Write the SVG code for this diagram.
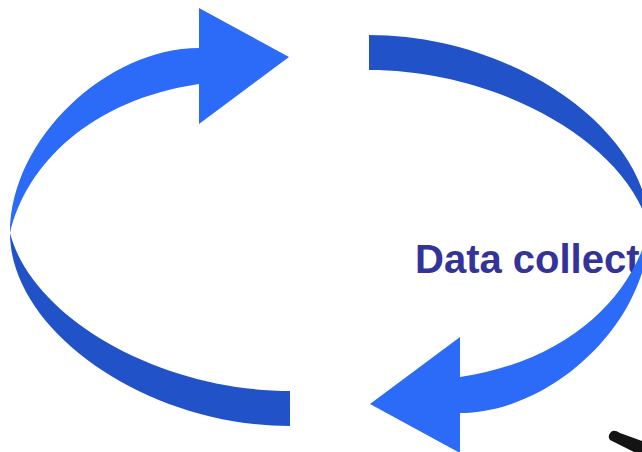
<svg xmlns="http://www.w3.org/2000/svg" width="642" height="452" viewBox="0 0 642 452">
<style>
.bright{fill:#2B6BF7}
.dark{fill:#2152C8}
.label{font-family:"Liberation Sans",Arial,sans-serif;font-weight:bold;font-size:40px;fill:#333399}
</style>
<defs>
<g id="curved-arrow">
<path class="dark" d="M10,233 C10,330 145,426 290,426 L290,391 C160,391 32,318 10,233 Z"/>
<path class="bright" d="M10,233 C10,138 108,48 199,48 L199,8 L289,57 L199,124 L199,84 C90,100 26,165 10,233 Z"/>
</g>
</defs>
<rect width="642" height="452" fill="#FFFFFF"/>
<g id="label-data-collection">
<text class="label" x="415" y="273">Data collect</text>
</g>
<g id="connectors">
<use id="arrow-left" href="#curved-arrow"/>
<use id="arrow-right" href="#curved-arrow" transform="rotate(180 329.5 230.5)"/>
</g>
<g id="dark-fragment">
<path d="M611,432 Q614,429 620,433 L642,441 L642,452 L634,452 L622,446 L610,440 Q607,436 611,432 Z" fill="#141414"/>
</g>
</svg>
